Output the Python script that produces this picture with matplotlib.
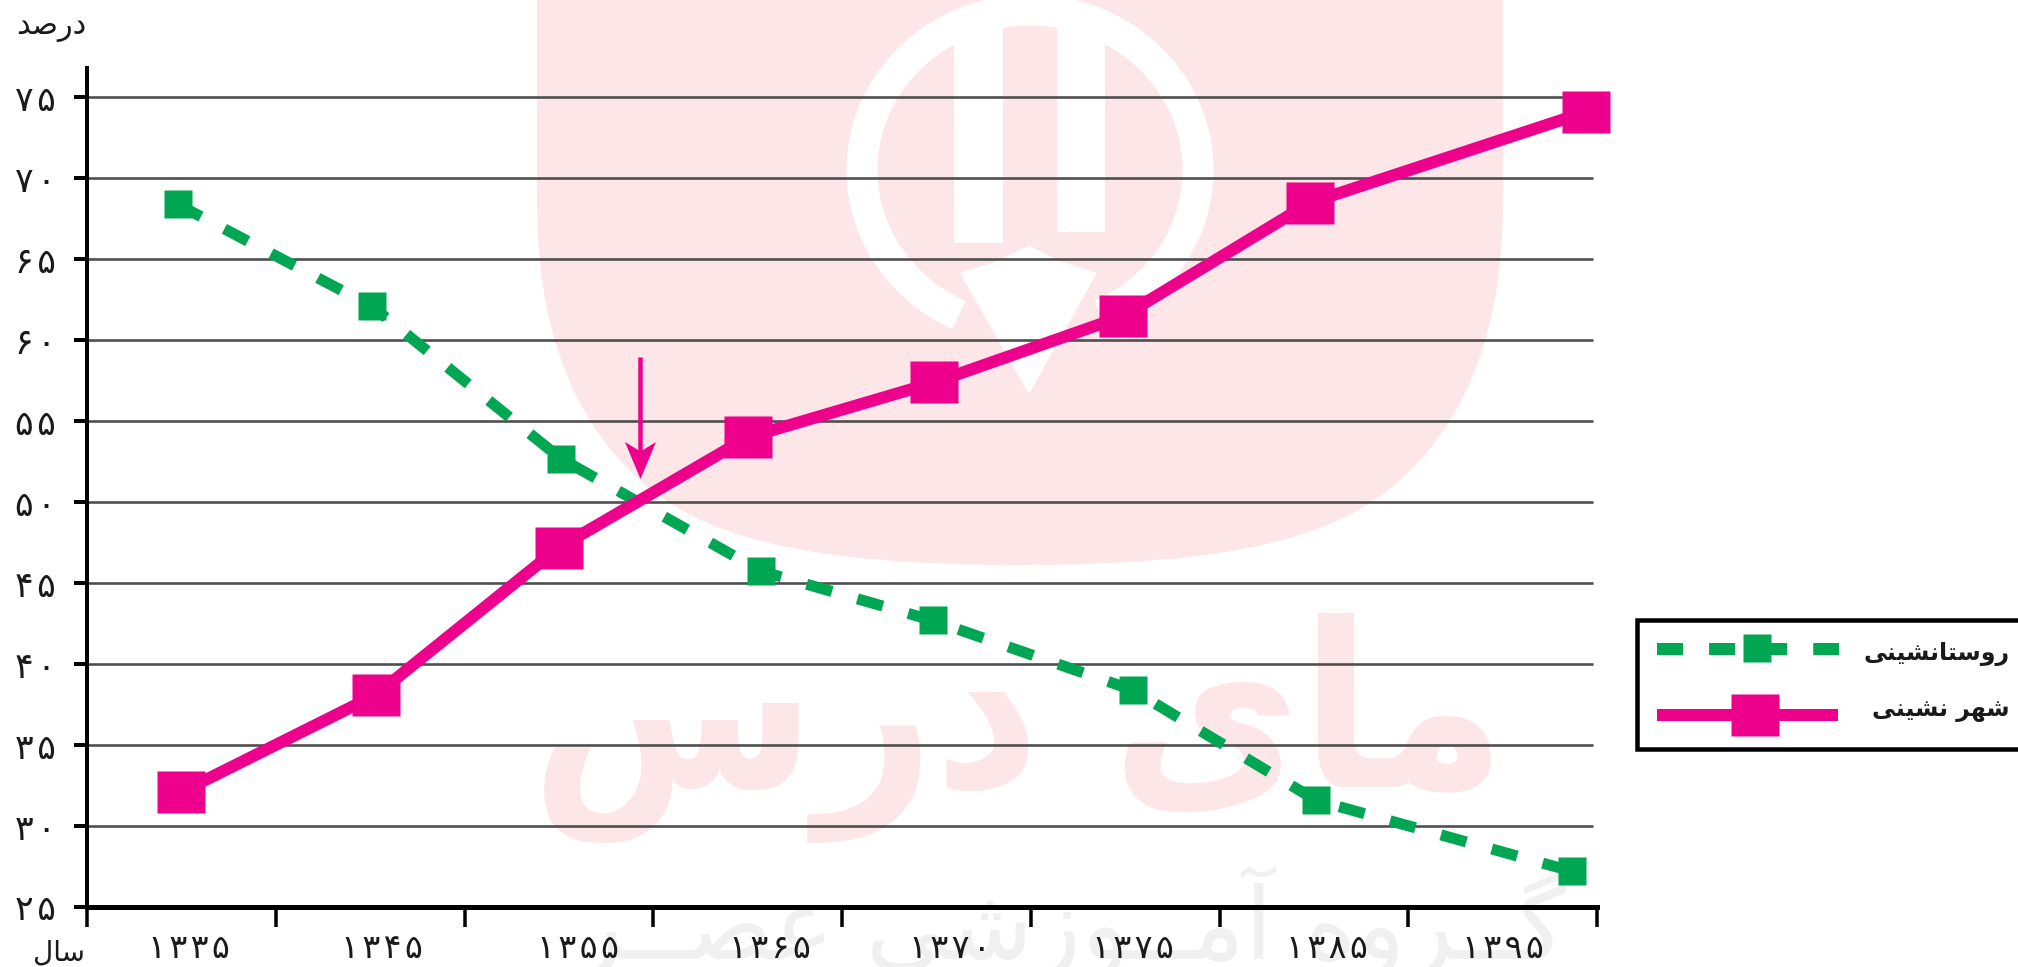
import numpy as np
import matplotlib
matplotlib.use('Agg')
import matplotlib.pyplot as plt
from matplotlib.patches import PathPatch, Polygon, Rectangle
from matplotlib.path import Path

# داده‌ها
years = ['۱۳۳۵', '۱۳۴۵', '۱۳۵۵', '۱۳۶۵', '۱۳۷۰', '۱۳۷۵', '۱۳۸۵', '۱۳۹۵']
y_ticks = [25, 30, 35, 40, 45, 50, 55, 60, 65, 70, 75]
y_labels = ['۲۵', '۳۰', '۳۵', '۴۰', '۴۵', '۵۰', '۵۵', '۶۰', '۶۵', '۷۰', '۷۵']

urban_x = [0.50, 1.53, 2.50, 3.50, 4.49, 5.49, 6.48, 7.94]
urban = [32.1, 38.1, 47.2, 54.0, 57.4, 61.5, 68.5, 74.1]
rural_x = [0.48, 1.51, 2.51, 3.57, 4.48, 5.54, 6.51, 7.87]
rural = [68.4, 62.1, 52.7, 45.75, 42.7, 38.4, 31.6, 27.2]

PINK = '#ec008c'
GREEN = '#00a651'
WASH = '#fde6e8'
PX = 0.72  # one pixel in points at dpi 100

# matplotlib does not shape Arabic script, so pick the joined glyphs by hand
FORMS = {
    'ا': 'ﺍﺎ', 'آ': 'ﺁﺂ', 'د': 'ﺩﺪ', 'ر': 'ﺭﺮ', 'ز': 'ﺯﺰ', 'و': 'ﻭﻮ',
    'ص': 'ﺹﺺﺻﺼ', 'س': 'ﺱﺲﺳﺴ', 'ش': 'ﺵﺶﺷﺸ', 'ل': 'ﻝﻞﻟﻠ', 'ت': 'ﺕﺖﺗﺘ',
    'ن': 'ﻥﻦﻧﻨ', 'ه': 'ﻩﻪﻫﻬ', 'ی': 'ﯼﯽﯾﯿ', 'م': 'ﻡﻢﻣﻤ', 'ع': 'ﻉﻊﻋﻌ',
    'گ': 'ﮒﮓﮔﮕ', 'ـ': 'ــــ',
}


def shape(word):
    out = []
    for i, ch in enumerate(word):
        if ch not in FORMS:
            out.append(ch)
            continue
        forms = FORMS[ch]
        before = i > 0 and len(FORMS.get(word[i - 1], '')) == 4
        after = i < len(word) - 1 and word[i + 1] in FORMS and len(forms) == 4
        if before and after:
            out.append(forms[3])
        elif before:
            out.append(forms[1])
        elif after:
            out.append(forms[2])
        else:
            out.append(forms[0])
    return ''.join(reversed(out))


fig = plt.figure(figsize=(20.18, 9.67), dpi=100, facecolor='white')
W, H = 2018, 967

# لایه زمینه با مختصات پیکسلی
bg = fig.add_axes([0, 0, 1, 1], zorder=0)
bg.set_xlim(0, W)
bg.set_ylim(H, 0)
bg.axis('off')

shield = [(537, -5), (537, 200),
          (537, 280), (550, 400), (640, 480),
          (700, 535), (800, 565), (1020, 565),
          (1240, 565), (1340, 535), (1400, 480),
          (1490, 400), (1503, 280), (1503, 200),
          (1503, -5), (537, -5)]
codes = [Path.MOVETO, Path.LINETO] + [Path.CURVE4] * 12 + [Path.LINETO, Path.CLOSEPOLY]
bg.add_patch(PathPatch(Path(shield, codes), fc=WASH, ec='none'))

# نشان سفید
theta = np.radians(np.linspace(115, 425, 200))
bg.plot(1030 + 168 * np.cos(theta), 170 + 160 * np.sin(theta), color='white',
        lw=31 * PX, solid_capstyle='butt')
bg.add_patch(Rectangle((954, 15), 49, 228, fc='white', ec='none'))
bg.add_patch(Rectangle((1057, 15), 48, 217, fc='white', ec='none'))
bg.add_patch(Polygon([(960, 273), (995, 262), (1029, 246), (1063, 262), (1097, 273),
                      (1029, 394)], fc='white', ec='none'))

bg.text(1018, 728, shape('مای درس'), fontsize=165, color=WASH, family='DejaVu Sans',
        stretch='condensed', fontweight='bold', ha='center', va='center')
bg.text(1070, 925, shape('گــروه آمــوزشی عصــر'), fontsize=72, color='#f0f0f0',
        family='DejaVu Sans', ha='center', va='center')

# نمودار اصلی
ax = fig.add_axes([87 / W, 1 - 907 / H, (1597 - 87) / W, (907 - 68) / H], zorder=1)
ax.patch.set_alpha(0)
ax.set_xlim(0, 8)
ax.set_ylim(25, 25 + (907 - 68) / 16.19)
for side in ['top', 'right']:
    ax.spines[side].set_visible(False)
ax.spines['left'].set_linewidth(4 * PX)
ax.spines['bottom'].set_linewidth(5 * PX)

ax.hlines(y_ticks[1:], 0, 7.98, color='#4d4d4d', lw=2.6 * PX, zorder=1)

ax.set_yticks(y_ticks)
ax.set_yticklabels(['\u200a'.join(s) for s in y_labels], fontsize=25, color='#1a1a1a',
                   family='DejaVu Sans')
ax.tick_params(axis='y', length=13 * PX, width=4 * PX, pad=13)
ax.set_xticks(range(9))
ax.set_xticklabels([])
ax.tick_params(axis='x', length=20 * PX, width=3.5 * PX)

label_shift = [0.04, 0.06, 0.10, 0.12, 0.07, 0.04, 0.07, 0.0]
for i, year in enumerate(years):
    ax.annotate('\u200a'.join(year), xy=(i + 0.5 + label_shift[i], 0),
                xycoords=('data', 'axes fraction'),
                xytext=(0, -41 * PX), textcoords='offset points', fontsize=24,
                color='#1a1a1a', family='DejaVu Sans', ha='center', va='center',
                annotation_clip=False)

pink_box = [(-24, -21), (24, -21), (24, 21), (-24, 21), (-24, -21)]
ax.plot(rural_x, rural, color=GREEN, lw=11 * PX, dashes=(2.4, 2.4), dash_capstyle='butt',
        marker='s', ms=28 * PX, mec='none', zorder=3, clip_on=False)
ax.plot(urban_x, urban, color=PINK, lw=12 * PX, marker=pink_box, ms=48 * PX, mec='none',
        solid_joinstyle='miter', zorder=4, clip_on=False)

# پیکان
arrow_head = [(0, -18.5), (-15.5, 18.5), (0, 9), (15.5, 18.5), (0, -18.5)]
ax.plot([2.93, 2.93], [59, 53], color=PINK, lw=4.5 * PX, zorder=5, solid_capstyle='butt')
ax.plot([2.93], [52.6], color=PINK, marker=arrow_head, ms=37 * PX, mec='none', zorder=5)

# عنوان محورها
bg.text(51, 27, shape('درصد'), fontsize=22, color='#1a1a1a', family='DejaVu Sans',
        ha='center', va='center')
bg.text(59, 953, shape('سال'), fontsize=20, color='#1a1a1a', family='DejaVu Sans',
        ha='center', va='center')

# راهنما
bg.add_patch(Rectangle((1637, 620), 400, 129, fc='white', ec='black', lw=4.5 * PX, clip_on=True))
bg.plot([1657, 1839], [649, 649], color=GREEN, lw=12 * PX, dashes=(2.17, 2.17), dash_capstyle='butt')
bg.plot([1757], [648], color=GREEN, marker='s', ms=28 * PX, mec='none')
bg.plot([1657, 1838], [715, 715], color=PINK, lw=12 * PX, solid_capstyle='butt')
bg.plot([1755], [715], color=PINK, marker=pink_box, ms=48 * PX, mec='none')
bg.text(2010, 654, shape('روستانشینی'), fontsize=17, color='#1a1a1a', family='DejaVu Sans',
        fontweight='bold', ha='right', va='center')
bg.text(2010, 710, shape('شهر نشینی'), fontsize=17, color='#1a1a1a', family='DejaVu Sans',
        fontweight='bold', ha='right', va='center')

fig.savefig('out.png', dpi=100)
